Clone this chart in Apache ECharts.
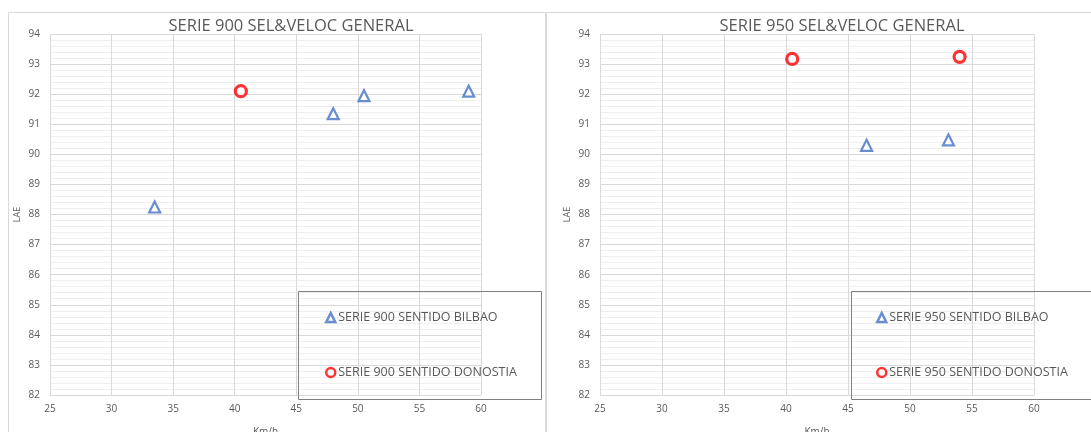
<!DOCTYPE html>
<html><head><meta charset="utf-8">
<script src="https://cdn.jsdelivr.net/npm/echarts@6/dist/echarts.min.js"></script>
<style>html,body{margin:0;padding:0;background:#fff}#c{width:1091px;height:432px}</style>
</head><body><div id="c"></div>
<script>
// Titles & legend names
const titles = ['SERIE 900 SEL&VELOC GENERAL', 'SERIE 950 SEL&VELOC GENERAL'];
const names900 = ['SERIE 900 SENTIDO BILBAO', 'SERIE 900 SENTIDO DONOSTIA'];
const names950 = ['SERIE 950 SENTIDO BILBAO', 'SERIE 950 SENTIDO DONOSTIA'];
// Data [Km/h, LAE]
const s900Bilbao = [[33.5, 88.25], [48.0, 91.35], [50.5, 91.95], [59.0, 92.1]];
const s900Donostia = [[40.5, 92.1]];
const s950Bilbao = [[46.5, 90.3], [53.1, 90.48]];
const s950Donostia = [[40.5, 93.17], [54.0, 93.24]];
const xName = 'Km/h';
const yName = 'LAE';

const FONT = '"Open Sans", "Liberation Sans", sans-serif';
const GRAY = '#595959';
const GRID = '#d9d9d9';
const BLUE = '#4472C4';
const RED = '#FF0000';

function xAxis(gi) {
  return {
    type: 'value', gridIndex: gi, min: 25, max: 60, interval: 5,
    name: xName, nameLocation: 'middle', nameGap: 32,
    nameTextStyle: {color: GRAY, fontSize: 10, fontFamily: FONT},
    axisLine: {show: false}, axisTick: {show: false},
    axisLabel: {color: GRAY, fontSize: 10, fontFamily: FONT, margin: 9},
    splitLine: {show: true, lineStyle: {color: GRID, width: 1}}
  };
}
function yAxis(gi) {
  return {
    type: 'value', gridIndex: gi, min: 82, max: 94, interval: 1,
    name: yName, nameLocation: 'middle', nameGap: 28,
    nameTextStyle: {color: GRAY, fontSize: 9, fontFamily: FONT},
    axisLine: {show: false}, axisTick: {show: false},
    axisLabel: {color: GRAY, fontSize: 10, fontFamily: FONT, margin: 10},
    splitLine: {show: true, lineStyle: {color: GRID, width: 1}},
    minorTick: {show: false, splitNumber: 5},
    minorSplitLine: {show: true, lineStyle: {color: '#efefef', width: 1}}
  };
}
const triStyle = {color: '#fff', borderColor: BLUE, borderWidth: 2.2};
const cirStyle = {color: '#fff', borderColor: RED, borderWidth: 3.2};

function legend(names, left) {
  return {data: names, orient: 'vertical', left: left, top: 306, itemGap: 42,
    itemWidth: 9, itemHeight: 9,
    itemStyle: {borderWidth: 2.5},
    textStyle: {color: GRAY, fontSize: 12.5, fontFamily: FONT, padding: [0, 0, 0, -2]}};
}

const chart = echarts.init(document.getElementById('c'), null, {renderer: 'canvas'});
chart.setOption({
  animation: false,
  backgroundColor: '#fff',
  title: [
    {text: titles[0], left: 286, top: 13, textAlign: 'center',
     textStyle: {color: GRAY, fontSize: 16.5, fontWeight: 'normal', fontFamily: FONT}},
    {text: titles[1], left: 837, top: 13, textAlign: 'center',
     textStyle: {color: GRAY, fontSize: 16.5, fontWeight: 'normal', fontFamily: FONT}}
  ],
  grid: [
    {left: 50, top: 34, width: 431, height: 361, outerBoundsMode: 'none', containLabel: false},
    {left: 600, top: 34, width: 434, height: 361, outerBoundsMode: 'none', containLabel: false}
  ],
  xAxis: [xAxis(0), xAxis(1)],
  yAxis: [yAxis(0), yAxis(1)],
  legend: [legend(names900, 320), legend(names950, 871)],
  graphic: [
    {type: 'rect', shape: {x: 8.5, y: 12.5, width: 537, height: 440}, style: {fill: 'none', stroke: '#d9d9d9', lineWidth: 1}, z: 0},
    {type: 'rect', shape: {x: 546.5, y: 12.5, width: 560, height: 440}, style: {fill: 'none', stroke: '#d9d9d9', lineWidth: 1}, z: 0},
    {type: 'rect', shape: {x: 298.5, y: 291.5, width: 243, height: 108}, style: {fill: 'none', stroke: '#808080', lineWidth: 1}, z: 10},
    {type: 'rect', shape: {x: 851.5, y: 291.5, width: 243, height: 108}, style: {fill: 'none', stroke: '#808080', lineWidth: 1}, z: 10}
  ],
  series: [
    {name: names900[0], type: 'scatter', xAxisIndex: 0, yAxisIndex: 0, data: s900Bilbao,
     symbol: 'triangle', symbolSize: 11, itemStyle: triStyle},
    {name: names900[1], type: 'scatter', xAxisIndex: 0, yAxisIndex: 0, data: s900Donostia,
     symbol: 'circle', symbolSize: 11, itemStyle: cirStyle},
    {name: names950[0], type: 'scatter', xAxisIndex: 1, yAxisIndex: 1, data: s950Bilbao,
     symbol: 'triangle', symbolSize: 11, itemStyle: triStyle},
    {name: names950[1], type: 'scatter', xAxisIndex: 1, yAxisIndex: 1, data: s950Donostia,
     symbol: 'circle', symbolSize: 11, itemStyle: cirStyle}
  ]
});
</script></body></html>
